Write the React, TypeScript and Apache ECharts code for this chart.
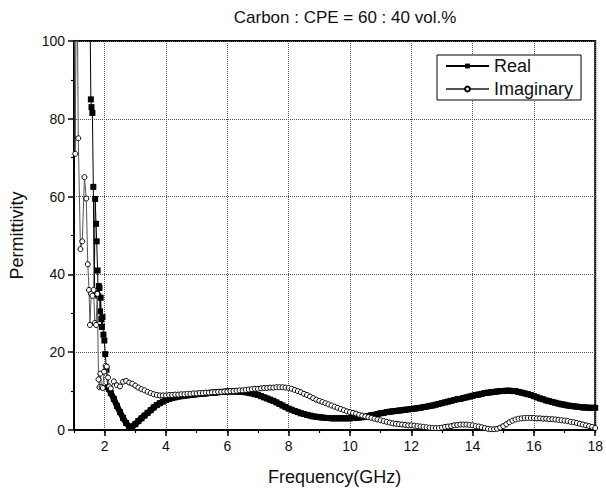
import React, { useEffect, useRef } from "react";
import * as echarts from "echarts";

// ---- Data (Frequency in GHz, permittivity) ----
// Noisy low-frequency part (irregular sampling)
const realSpikyFreq = [1.0, 1.25, 1.5, 1.55, 1.57, 1.6, 1.63, 1.66, 1.69, 1.72, 1.74, 1.77, 1.79, 1.81, 1.83, 1.85, 1.87, 1.89, 1.91, 1.93, 1.96, 1.99, 2.02, 2.06, 2.1, 2.15];
const realSpikyVal = [180, 150, 125, 85, 83, 81.5, 62.5, 35, 59.4, 53, 48.5, 41, 34.5, 37, 36.5, 30.5, 34, 28.5, 26.5, 29, 24.5, 23, 19.5, 15.5, 11, 10.6];

const imagSpikyFreq = [1.0, 1.04, 1.09, 1.14, 1.21, 1.27, 1.34, 1.4, 1.45, 1.49, 1.52, 1.56, 1.6, 1.64, 1.68, 1.72, 1.76, 1.8, 1.83, 1.86, 1.9, 1.94, 1.98, 2.03, 2.07, 2.11, 2.15];
const imagSpikyVal = [160, 71, 130, 75, 46.5, 48.5, 65, 59.5, 42.6, 36, 27, 35, 34.5, 36, 27.5, 27, 35, 13, 11, 14.5, 11, 10.8, 15, 16.5, 16.3, 13.5, 11.2];

// Smooth part: readings every 0.1 GHz from 2.2 to 18.0
const smoothFreq = Array.from({ length: 159 }, (_, i) => Math.round((2.2 + i * 0.1) * 10) / 10);

const realSmoothVal = [
  9.5, 8.0, 6.2, 4.6, 3.1, 1.8, 0.8, 0.9, 1.5, 2.3,
  3.0, 3.7, 4.4, 5.1, 5.8, 6.4, 6.9, 7.3, 7.7, 8.0,
  8.2, 8.4, 8.6, 8.7, 8.8, 8.9, 9.0, 9.1, 9.2, 9.3,
  9.3, 9.4, 9.5, 9.6, 9.6, 9.7, 9.8, 9.8, 9.9, 9.9,
  9.9, 9.9, 9.8, 9.8, 9.7, 9.6, 9.4, 9.2, 9.0, 8.7,
  8.4, 8.1, 7.8, 7.5, 7.1, 6.7, 6.3, 5.9, 5.5, 5.2,
  4.9, 4.6, 4.3, 4.1, 3.9, 3.7, 3.5, 3.4, 3.3, 3.2,
  3.1, 3.1, 3.0, 3.0, 3.0, 3.0, 3.0, 3.0, 3.0, 3.1,
  3.1, 3.2, 3.3, 3.4, 3.6, 3.8, 3.9, 4.1, 4.3, 4.4,
  4.6, 4.7, 4.8, 4.9, 5.0, 5.1, 5.2, 5.3, 5.4, 5.5,
  5.6, 5.7, 5.9, 6.0, 6.2, 6.3, 6.5, 6.7, 6.9, 7.1,
  7.3, 7.5, 7.7, 7.9, 8.0, 8.2, 8.4, 8.6, 8.8, 9.0,
  9.1, 9.3, 9.5, 9.6, 9.7, 9.8, 9.9, 10.0, 10.0, 10.1,
  10.1, 10.0, 10.0, 9.8, 9.6, 9.4, 9.2, 9.0, 8.7, 8.4,
  8.1, 7.9, 7.6, 7.4, 7.2, 7.0, 6.8, 6.6, 6.5, 6.3,
  6.2, 6.1, 6.0, 5.9, 5.8, 5.8, 5.7, 5.7, 5.7,
];

const imagSmoothVal = [
  10.7, 12.5, 11.5, 11.2, 12.4, 12.6, 12.2, 11.9, 11.4, 10.9,
  10.5, 10.2, 9.8, 9.5, 9.2, 9.0, 8.9, 8.9, 8.9, 9.0,
  9.0, 9.1, 9.1, 9.2, 9.2, 9.3, 9.3, 9.4, 9.4, 9.5,
  9.5, 9.6, 9.6, 9.7, 9.7, 9.8, 9.8, 9.9, 9.9, 10.0,
  10.0, 10.1, 10.2, 10.2, 10.3, 10.4, 10.5, 10.6, 10.6, 10.7,
  10.8, 10.8, 10.9, 10.9, 11.0, 11.0, 11.0, 10.9, 10.8, 10.6,
  10.3, 10.0, 9.7, 9.3, 9.0, 8.6, 8.2, 7.8, 7.5, 7.2,
  6.9, 6.6, 6.3, 6.0, 5.7, 5.4, 5.1, 4.8, 4.6, 4.4,
  4.2, 3.9, 3.7, 3.5, 3.3, 3.1, 2.9, 2.7, 2.5, 2.3,
  2.1, 1.9, 1.7, 1.6, 1.5, 1.4, 1.3, 1.2, 1.2, 1.1,
  1.0, 0.9, 0.8, 0.7, 0.6, 0.5, 0.5, 0.5, 0.6, 0.8,
  0.9, 1.0, 1.2, 1.3, 1.4, 1.4, 1.4, 1.3, 1.2, 1.0,
  0.9, 0.7, 0.5, 0.3, 0.2, 0.2, 0.3, 0.6, 1.0, 1.5,
  2.0, 2.4, 2.7, 2.9, 3.0, 3.1, 3.1, 3.1, 3.1, 3.0,
  3.0, 2.9, 2.9, 2.8, 2.8, 2.7, 2.6, 2.5, 2.4, 2.3,
  2.1, 2.0, 1.8, 1.6, 1.4, 1.2, 1.0, 0.8, 0.5,
];

const xTickLabels = [2, 4, 6, 8, 10, 12, 14, 16, 18];
const titleText = "Carbon : CPE = 60 : 40 vol.%";
const seriesNames = ["Real", "Imaginary"];

const FONT = "'Liberation Sans', Arial, Helvetica, sans-serif";

function pairs(fx: number[], vy: number[]) {
  return fx.map((f, i) => [f, vy[i]]);
}

export default function App() {
  const ref = useRef<HTMLDivElement>(null);

  useEffect(() => {
    if (!ref.current) return;
    const chart = echarts.init(ref.current, undefined, { renderer: "svg" });

    const realSpiky = pairs(realSpikyFreq, realSpikyVal);
    const realSmooth = [realSpiky[realSpiky.length - 1], ...pairs(smoothFreq, realSmoothVal)];
    const imagData = [...pairs(imagSpikyFreq, imagSpikyVal), ...pairs(smoothFreq, imagSmoothVal)];

    chart.setOption({
      animation: false,
      backgroundColor: "#fff",
      textStyle: { fontFamily: FONT },
      title: {
        text: titleText,
        left: 340,
        top: 4,
        textAlign: "center",
        textStyle: { fontFamily: FONT, fontSize: 17, fontWeight: "normal", color: "#111" },
      },
      legend: {
        orient: "vertical",
        left: 437,
        top: 55,
        itemWidth: 43,
        itemHeight: 6,
        itemGap: 5,
        padding: [2, 8, 2, 8],
        borderColor: "#000",
        borderWidth: 1,
        backgroundColor: "#fff",
        textStyle: { fontFamily: FONT, fontSize: 18, color: "#111" },
        data: seriesNames,
      },
      grid: {
        left: 73,
        right: 8,
        top: 41,
        bottom: 61,
        show: true,
        borderColor: "#000",
        borderWidth: 2,
        backgroundColor: "transparent",
      },
      xAxis: [
        {
          type: "value",
          min: 1,
          max: 18,
          position: "bottom",
          name: "Frequency(GHz)",
          nameLocation: "middle",
          nameGap: 38,
          nameTextStyle: { fontFamily: FONT, fontSize: 18, color: "#111" },
          axisLine: { show: true, onZero: false, lineStyle: { color: "#000", width: 2 } },
          axisTick: { show: true, length: 6, inside: false, customValues: xTickLabels, lineStyle: { color: "#000", width: 1.5 } },
          axisLabel: { customValues: xTickLabels, margin: 9, fontFamily: FONT, fontSize: 14, color: "#111" },
          splitLine: { show: true, lineStyle: { type: "dotted", color: "#555", width: 1 } },
        },
        {
          type: "value",
          min: 1,
          max: 18,
          interval: 1,
          position: "bottom",
          axisLine: { show: false },
          axisTick: { show: true, length: 3, inside: false, lineStyle: { color: "#000", width: 1.2 } },
          axisLabel: { show: false },
          splitLine: { show: false },
        },
      ],
      yAxis: {
        type: "value",
        min: 0,
        max: 100,
        interval: 20,
        name: "Permittivity",
        nameLocation: "middle",
        nameRotate: 90,
        nameGap: 48,
        nameTextStyle: { fontFamily: FONT, fontSize: 18, color: "#111" },
        axisLine: { show: true, lineStyle: { color: "#000", width: 2 } },
        axisTick: { show: true, length: 6, inside: false, lineStyle: { color: "#000", width: 1.5 } },
        minorTick: { show: true, splitNumber: 2, length: 3, lineStyle: { color: "#000", width: 1.2 } },
        axisLabel: { margin: 9, fontFamily: FONT, fontSize: 14, color: "#111" },
        splitLine: { show: true, lineStyle: { type: "dotted", color: "#555", width: 1 } },
      },
      series: [
        {
          name: seriesNames[0],
          type: "line",
          xAxisIndex: 0,
          data: realSpiky,
          clip: true,
          showAllSymbol: true,
          symbol: "rect",
          symbolSize: 6,
          itemStyle: { color: "#000" },
          lineStyle: { color: "#000", width: 1 },
          z: 2,
        },
        {
          name: seriesNames[0],
          type: "line",
          xAxisIndex: 0,
          data: realSmooth,
          clip: true,
          showAllSymbol: true,
          symbol: "rect",
          symbolSize: 6,
          itemStyle: { color: "#000" },
          lineStyle: { color: "#000", width: 6 },
          z: 2,
        },
        {
          name: seriesNames[1],
          type: "line",
          xAxisIndex: 0,
          data: imagData,
          clip: true,
          showAllSymbol: true,
          symbol: "circle",
          symbolSize: 5,
          itemStyle: { color: "#fff", borderColor: "#000", borderWidth: 1 },
          lineStyle: { color: "#555", width: 1 },
          z: 3,
        },
      ],
    });

    return () => chart.dispose();
  }, []);

  return (
    <div
      ref={ref}
      style={{ position: "fixed", left: 0, top: 0, width: 606, height: 491, background: "#fff" }}
    />
  );
}
